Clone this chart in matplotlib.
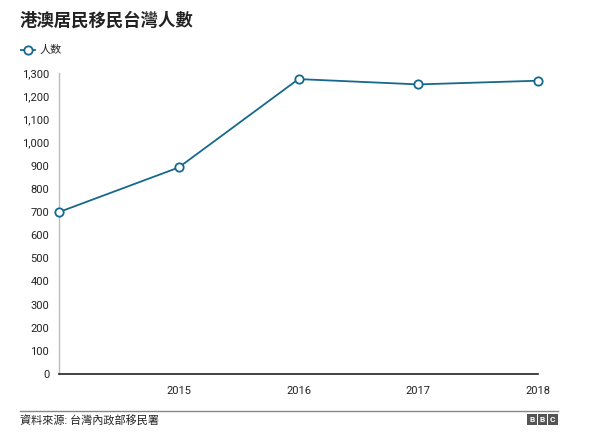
import matplotlib
matplotlib.use("Agg")
import matplotlib.pyplot as plt
from matplotlib.patches import Rectangle

plt.rcParams['font.family'] = ['Roboto', 'Noto Sans CJK TC', 'DejaVu Sans']

years = [2014, 2015, 2016, 2017, 2018]
counts = [700, 893, 1275, 1252, 1268]
xtick_years = [2015, 2016, 2017, 2018]
yticks = list(range(0, 1301, 100))
title = "港澳居民移民台灣人數"
legend_label = "人数"
source = "資料來源: 台灣內政部移民署"

W, H = 600, 444
fig = plt.figure(figsize=(W / 100, H / 100), dpi=100)
ax = fig.add_axes([59 / W, 1 - 374 / H, (538 - 59) / W, (374 - 73.3) / H])

color = '#15698c'
ax.plot(years, counts, color=color, lw=1.3, marker='o', markersize=6,
        markerfacecolor='white', markeredgecolor=color, markeredgewidth=1.3,
        clip_on=False, zorder=5)

ax.set_xlim(2014, 2018)
ax.set_ylim(0, 1300)
ax.set_xticks(xtick_years)
ax.set_xticklabels([str(y) for y in xtick_years])
ax.set_yticks(yticks)
ax.set_yticklabels([f"{v:,}" for v in yticks])
ax.tick_params(axis='both', length=0, labelsize=8, colors='#222222')
ax.tick_params(axis='y', pad=7)
ax.tick_params(axis='x', pad=9)
for s in ['top', 'right']:
    ax.spines[s].set_visible(False)
ax.spines['left'].set_color('#bbbbbb')
ax.spines['left'].set_linewidth(1)
ax.spines['bottom'].set_color('#222222')
ax.spines['bottom'].set_linewidth(1.2)

# Title
fig.text(20 / W, 1 - 20 / H, title, fontsize=12.5, fontweight='bold',
         color='#222222', va='center', ha='left')

# Legend
lx, ly = 28 / W, 1 - 50 / H
fig.add_artist(plt.Line2D([21 / W, 35 / W], [ly, ly], color=color, lw=1.3,
                          transform=fig.transFigure))
fig.add_artist(plt.Line2D([lx], [ly], marker='o', markersize=6,
                          markerfacecolor='white', markeredgecolor=color,
                          markeredgewidth=1.3, transform=fig.transFigure))
fig.text(40 / W, ly, legend_label, fontsize=8, color='#222222', va='center', ha='left')

# Footer rule
fig.add_artist(plt.Line2D([20 / W, 558 / W], [1 - 410.5 / H, 1 - 410.5 / H],
                          color='#888888', lw=1, transform=fig.transFigure))
fig.text(20 / W, 1 - 420 / H, source, fontsize=8, color='#222222',
         va='center', ha='left')

# BBC blocks
for i, letter in enumerate("BBC"):
    x0 = 527 / W + i * 10.5 / W
    fig.add_artist(Rectangle((x0, 1 - 425 / H), 9.5 / W, 11 / H,
                             facecolor='#555555', edgecolor='none',
                             transform=fig.transFigure))
    fig.text(x0 + 4.75 / W, 1 - 419.5 / H, letter, fontsize=6, fontweight='bold',
             color='white', ha='center', va='center')

fig.savefig('out.png', dpi=100)
